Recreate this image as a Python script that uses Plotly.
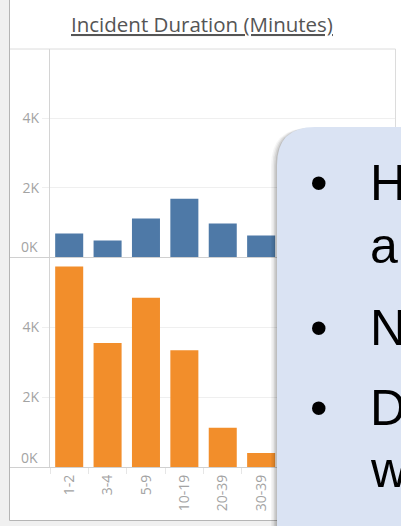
import plotly.graph_objects as go

W, H = 401, 526

# ---- data ----
categories = ["1-2", "3-4", "5-9", "10-19", "20-39", "30-39"]
top_values = [676, 475, 1108, 1683, 964, 619]          # blue panel
bottom_values = [5727, 3540, 4835, 3338, 1122, 403]    # orange panel
y_tick_vals = [2000, 4000]
y_tick_text = ["2K", "4K"]
title_text = "Incident Duration (Minutes)"
callout_lines = ["H", "a", "N", "D", "w"]
callout_bullets = [True, False, True, True, False]


def px(x):
    return x / W


def py(y):
    return 1 - y / H


BLUE = "#4e79a7"
ORANGE = "#f28e2b"
GRID = "#efefef"
AXIS = "#d4d4d4"
TICKFONT = dict(family="Open Sans", size=14, color="#a3a3a3")

fig = go.Figure()
fig.add_trace(go.Bar(x=categories, y=top_values, marker=dict(color=BLUE, line=dict(width=0)),
                     xaxis="x2", yaxis="y2", hoverinfo="skip"))
fig.add_trace(go.Bar(x=categories, y=bottom_values, marker=dict(color=ORANGE, line=dict(width=0)),
                     xaxis="x", yaxis="y", hoverinfo="skip"))

xdom = [px(50), px(395.5)]
common_y = dict(range=[0, 6000], tickvals=y_tick_vals, ticktext=y_tick_text,
                showgrid=True, gridcolor=GRID, gridwidth=1, zeroline=False,
                ticks="outside", ticklen=7, tickcolor=GRID, showline=True,
                linecolor=AXIS, linewidth=1, tickfont=TICKFONT, automargin=False,
                fixedrange=True)

fig.update_layout(
    width=W, height=H,
    margin=dict(l=0, r=0, t=0, b=0, pad=0),
    paper_bgcolor="white", plot_bgcolor="rgba(0,0,0,0)",
    showlegend=False, bargap=0.27,
    xaxis=dict(domain=xdom, anchor="y", type="category", range=[-0.5, 8.5],
               tickangle=-90, tickfont=TICKFONT, ticks="outside", tickson="boundaries",
               ticklen=6, tickcolor="#e6e6e6", showgrid=False, showline=False,
               ticklabelstandoff=4,
               zeroline=False, automargin=False, fixedrange=True),
    xaxis2=dict(domain=xdom, anchor="y2", type="category", range=[-0.5, 8.5],
                showticklabels=False, ticks="", showgrid=False, showline=False,
                zeroline=False, automargin=False, fixedrange=True, matches="x"),
    yaxis=dict(domain=[py(467), py(257)], anchor="x", **common_y),
    yaxis2=dict(domain=[py(257), py(49)], anchor="x2", **common_y),
)

shapes = []
# outer grey background strips
shapes.append(dict(type="rect", xref="paper", yref="paper", x0=0, x1=px(9.5), y0=0, y1=1,
                   fillcolor="#f0f0f0", line=dict(width=0), layer="below"))
shapes.append(dict(type="rect", xref="paper", yref="paper", x0=0, x1=1, y0=0, y1=py(520.5),
                   fillcolor="#f0f0f0", line=dict(width=0), layer="below"))
# sheet border
shapes.append(dict(type="line", xref="paper", yref="paper", x0=px(9.5), x1=px(9.5), y0=1, y1=py(520.5),
                   line=dict(color="#b5b5b5", width=1)))
shapes.append(dict(type="line", xref="paper", yref="paper", x0=px(9.5), x1=1, y0=py(520.5), y1=py(520.5),
                   line=dict(color="#b5b5b5", width=1)))
# chart frame
shapes.append(dict(type="line", xref="paper", yref="paper", x0=px(10), x1=px(395.5), y0=py(49), y1=py(49),
                   line=dict(color="#dcdcdc", width=1)))
shapes.append(dict(type="line", xref="paper", yref="paper", x0=px(395.5), x1=px(395.5), y0=py(49), y1=py(520),
                   line=dict(color="#dcdcdc", width=1)))
for yy in (257.5, 467.5):
    shapes.append(dict(type="line", xref="paper", yref="paper", x0=px(10), x1=px(395.5), y0=py(yy), y1=py(yy),
                       line=dict(color="#d0d0d0", width=1)))

# callout box with soft shadow
L, T, R, B, r = 277, 127, 430, 560, 38


def box_path(l, t, rr, b, rad):
    return (f"M {px(l)},{py(b)} L {px(l)},{py(t + rad)} "
            f"Q {px(l)},{py(t)} {px(l + rad)},{py(t)} "
            f"L {px(rr)},{py(t)} L {px(rr)},{py(b)} Z")


for i, (dx, op) in enumerate([(6, 0.04), (4.5, 0.06), (3, 0.08), (1.5, 0.10)]):
    shapes.append(dict(type="path", xref="paper", yref="paper",
                       path=box_path(L - dx, T + 1, R, B, r),
                       fillcolor=f"rgba(0,0,0,{op})", line=dict(width=0), layer="above"))
shapes.append(dict(type="path", xref="paper", yref="paper", path=box_path(L, T, R, B, r),
                   fillcolor="#dae3f3", line=dict(width=0), layer="above"))
fig.update_layout(shapes=shapes)

annotations = []
# title
annotations.append(dict(text=f"<u>{title_text}</u>", xref="paper", yref="paper",
                        x=px(202), y=py(24), xanchor="center", yanchor="middle", showarrow=False,
                        font=dict(family="Open Sans", size=20.5, color="#555555")))
# 0K labels (Tableau nudges the bottom label upward)
for base in (257, 467):
    annotations.append(dict(text="0K", xref="paper", yref="paper", x=px(40), y=py(base - 10),
                            xanchor="right", yanchor="middle", showarrow=False, font=TICKFONT))
# callout text
baselines = [200, 263, 345, 425, 487]
for txt, bullet, bl in zip(callout_lines, callout_bullets, baselines):
    annotations.append(dict(text=txt, xref="paper", yref="paper", x=px(368), y=py(bl - 17),
                            xanchor="left", yanchor="middle", showarrow=False,
                            font=dict(family="Liberation Sans", size=50, color="black")))
    if bullet:
        annotations.append(dict(text="•", xref="paper", yref="paper", x=px(308), y=py(bl - 17),
                                xanchor="left", yanchor="middle", showarrow=False,
                                font=dict(family="Liberation Sans", size=50, color="black")))
fig.update_layout(annotations=annotations)

fig.write_html("out.html", config={"displayModeBar": False},
               post_script="document.body.style.margin='0';document.body.style.overflow='hidden';")
